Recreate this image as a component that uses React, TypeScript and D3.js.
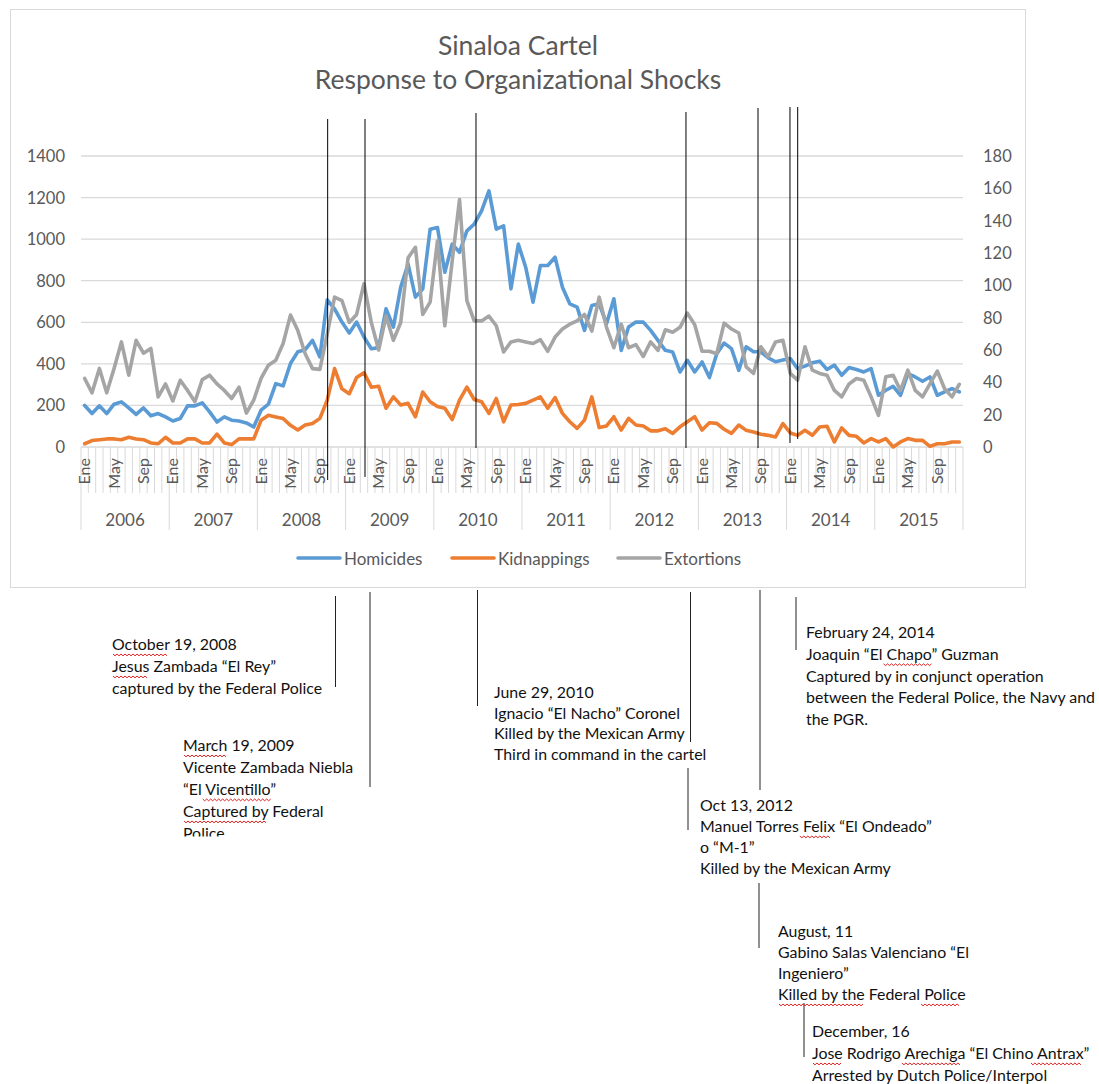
import React, { useEffect, useRef } from 'react';
import * as d3 from 'd3';

// ---------- data ----------
const years = ['2006', '2007', '2008', '2009', '2010', '2011', '2012', '2013', '2014', '2015'];
const monthNames = ['Ene', 'Feb', 'Mar', 'Abr', 'May', 'Jun', 'Jul', 'Ago', 'Sep', 'Oct', 'Nov', 'Dic'];
const shownMonths = ['Ene', 'May', 'Sep'];
const leftTicks = [0, 200, 400, 600, 800, 1000, 1200, 1400];
const rightTicks = [0, 20, 40, 60, 80, 100, 120, 140, 160, 180];

const homicides = [
  200, 161, 198, 161, 206, 217, 188, 157, 188, 150, 161, 145,
  125, 137, 198, 198, 212, 169, 120, 145, 129, 125, 116, 96,
  177, 206, 305, 294, 402, 458, 468, 513, 433, 708, 665, 601,
  548, 601, 529, 473, 478, 665, 577, 769, 880, 721, 761, 1048,
  1056, 841, 976, 937, 1040, 1072, 1136, 1232, 1048, 1064, 761, 976,
  865, 697, 873, 873, 913, 769, 689, 673, 561, 681, 689, 593,
  713, 465, 577, 601, 601, 561, 513, 465, 457, 361, 417, 361,
  409, 334, 449, 500, 473, 369, 482, 458, 458, 429, 410, 418,
  426, 377, 389, 405, 413, 373, 394, 345, 382, 373, 361, 377,
  249, 273, 292, 249, 353, 337, 316, 337, 249, 265, 281, 265,
];
const kidnappings = [
  2, 4, 4.5, 5, 5, 4.5, 6, 5, 4.5, 2.5, 2, 6,
  2.5, 2.5, 5, 5, 2.5, 2.5, 8, 2.5, 1.5, 5, 5, 5,
  16.5, 19.6, 18.6, 17.6, 13.4, 10.5, 13.6, 14.6, 17.7, 29, 48.5, 36,
  33, 43, 46, 37, 37.6, 24, 31, 26, 27, 18.7, 34, 28,
  25, 24, 17, 29, 37, 29.4, 28, 20.8, 30, 15.6, 26, 26.3,
  27, 29, 31, 24, 30.6, 20.8, 15.6, 11.5, 16.6, 31, 12, 13,
  18.7, 10.5, 17.7, 13.6, 13, 10, 10, 11.3, 8.4, 12.5, 15.6, 18.7,
  10.5, 15, 14.6, 11, 8.4, 13.6, 10.3, 9.3, 7.9, 7.2, 6.2, 14.5,
  8.7, 7.2, 10.3, 7.2, 12.4, 12.8, 3.1, 11.8, 7.2, 6.6, 2.5, 5.2,
  3.1, 5.2, 0, 3.1, 5.2, 4.1, 4.1, 0.4, 2, 2, 3.1, 3.1,
];
const extortions = [
  42.4, 33.5, 48.6, 33.5, 48.6, 65, 44.4, 66, 58, 61, 31, 39,
  28.5, 41.3, 35, 28, 41.7, 44.4, 39, 35, 30, 37, 21, 29,
  42.4, 50.6, 53.7, 64, 81.6, 72, 57.7, 48.5, 48, 70, 92.7, 90.6,
  77, 82, 101, 77, 60, 81, 66, 77, 117, 123.5, 82, 89.6,
  127.6, 75, 115, 153, 90.6, 78, 78, 81, 75, 58.8, 65, 66,
  65, 64, 66.4, 59.2, 68, 73, 76, 78, 82, 71.7, 92.7, 74,
  61.4, 76, 61.4, 63.3, 56, 65, 59.8, 72.5, 71, 74, 82.8, 75.6,
  59.2, 59.2, 57.7, 76.6, 73, 70.5, 49.6, 45.5, 62, 55.8, 65, 66,
  45.5, 41.3, 62, 47.5, 45.5, 44.4, 35, 31, 39, 42.4, 41.3, 31,
  19.6, 43.4, 44.4, 35, 47.5, 35, 31, 39, 47, 36, 31, 38.8,
];

const seriesNames = ['Homicides', 'Kidnappings', 'Extortions'];
const seriesColors = ['#5B9BD5', '#ED7D31', '#A5A5A5'];

// event markers: fractional month index (0 = Ene 2006)
const eventPositions = [33.56, 38.64, 53.74, 82.31, 92.11, 96.46, 97.51];

// annotation texts (~...~ marks spell-check underlined words)
const annotationTexts = [
  ['~October~ 19, 2008', '~Jesus~ Zambada “El Rey”', 'captured by the Federal Police'],
  ['~March~ 19, 2009', 'Vicente Zambada Niebla', '“El ~Vicentillo”~', '~Captured by~ Federal', 'Police'],
  ['June 29, 2010', 'Ignacio “El Nacho” Coronel', 'Killed by the Mexican Army', 'Third in command in the cartel'],
  ['Oct 13, 2012', 'Manuel Torres ~Felix~ “El Ondeado”', 'o “M-1”', 'Killed by the Mexican Army'],
  ['February 24, 2014', 'Joaquin “El ~Chapo”~ Guzman', 'Captured by in conjunct operation', 'between the Federal Police, the Navy and', 'the PGR.'],
  ['August, 11', 'Gabino Salas Valenciano “El', 'Ingeniero”', '~Killed by the~ Federal ~Police~'],
  ['December, 16', '~Jose~ Rodrigo ~Arechiga~ “El Chino ~Antrax”~', '~Arrested by~ Dutch ~Police/~Interpol'],
];

// ---------- layout ----------
const W = 1099;
const H = 1084;
const M = { left: 81, right: 963, top: 156, bottom: 447 };
const FONT = "Lato, 'Open Sans', sans-serif";
const TXT = '#595959';
const GRID = '#d9d9d9';

const eventLayout = [
  { top: 119, bottom: 480 }, { top: 119, bottom: 477 }, { top: 113, bottom: 448 },
  { top: 112, bottom: 448 }, { top: 108, bottom: 448 }, { top: 107, bottom: 443 }, { top: 107, bottom: 439 },
];
const annotationLayout = [
  { x: 112, y: 650, dy: 22 },
  { x: 183, y: 751, dy: 22 },
  { x: 494, y: 698, dy: 20.7 },
  { x: 700, y: 811, dy: 21 },
  { x: 806, y: 638, dy: 21.8 },
  { x: 778, y: 937, dy: 21 },
  { x: 812, y: 1037, dy: 22 },
];
const connectors = [
  { x: 335.5, y1: 596, y2: 687 },
  { x: 370, y1: 592, y2: 787 },
  { x: 477.5, y1: 590, y2: 706 },
  { x: 690.5, y1: 592, y2: 742 },
  { x: 688, y1: 768, y2: 830 },
  { x: 760, y1: 590, y2: 790 },
  { x: 796, y1: 597, y2: 650 },
  { x: 759, y1: 883, y2: 948 },
  { x: 804, y1: 1003, y2: 1057 },
];

export default function App() {
  const ref = useRef<SVGSVGElement>(null);

  useEffect(() => {
    const svg = d3.select(ref.current);
    svg.selectAll('*').remove();
    const n = homicides.length;

    svg.append('rect').attr('width', W).attr('height', H).attr('fill', '#fff');

    // chart frame
    svg.append('rect').attr('x', 10.5).attr('y', 9.5).attr('width', 1015).attr('height', 578)
      .attr('fill', '#fff').attr('stroke', GRID).attr('stroke-width', 1);

    const x = d3.scaleLinear().domain([0, n]).range([M.left, M.right]);
    const yL = d3.scaleLinear().domain([0, 1400]).range([M.bottom, M.top]);
    const yR = d3.scaleLinear().domain([0, 180]).range([M.bottom, M.top]);

    // title
    const title = svg.append('g').attr('font-family', FONT).attr('fill', TXT).attr('font-size', 26.5)
      .attr('text-anchor', 'middle');
    title.append('text').attr('x', 518).attr('y', 45).attr('dominant-baseline', 'central').text('Sinaloa Cartel');
    title.append('text').attr('x', 518).attr('y', 79).attr('dominant-baseline', 'central').text('Response to Organizational Shocks');

    // gridlines
    svg.append('g').selectAll('line').data(leftTicks).join('line')
      .attr('x1', M.left).attr('x2', M.right)
      .attr('y1', (d) => yL(d)).attr('y2', (d) => yL(d))
      .attr('stroke', GRID).attr('stroke-width', 1.3);

    // left axis labels
    svg.append('g').selectAll('text').data(leftTicks).join('text')
      .attr('x', 65).attr('y', (d) => yL(d)).attr('dominant-baseline', 'central')
      .attr('text-anchor', 'end').attr('font-family', FONT).attr('font-size', 16.5).attr('fill', TXT)
      .text((d) => String(d));
    // right axis labels
    svg.append('g').selectAll('text').data(rightTicks).join('text')
      .attr('x', 983).attr('y', (d) => yR(d)).attr('dominant-baseline', 'central')
      .attr('text-anchor', 'start').attr('font-family', FONT).attr('font-size', 16.5).attr('fill', TXT)
      .text((d) => String(d));

    // category ticks
    const tickIdx = d3.range(n + 1);
    svg.append('g').selectAll('line').data(tickIdx).join('line')
      .attr('x1', (d) => x(d)).attr('x2', (d) => x(d))
      .attr('y1', M.bottom).attr('y2', (d) => (d % 12 === 0 ? 530 : 493))
      .attr('stroke', GRID).attr('stroke-width', 1);

    // month labels
    const monthLabels: { i: number; t: string }[] = [];
    years.forEach((_, yi) => {
      monthNames.forEach((mn, mi) => {
        if (shownMonths.includes(mn)) monthLabels.push({ i: yi * 12 + mi, t: mn });
      });
    });
    svg.append('g').selectAll('text').data(monthLabels).join('text')
      .attr('transform', (d) => `translate(${x(d.i + 0.5)},458) rotate(-90)`)
      .attr('text-anchor', 'end').attr('dy', '0.35em')
      .attr('font-family', FONT).attr('font-size', 16).attr('fill', TXT)
      .text((d) => d.t);

    // year labels
    svg.append('g').selectAll('text').data(years).join('text')
      .attr('x', (_, i) => x(i * 12 + 6)).attr('y', 519).attr('dominant-baseline', 'central')
      .attr('text-anchor', 'middle').attr('font-family', FONT).attr('font-size', 17).attr('fill', TXT)
      .text((d) => d);

    // series lines
    const lineL = d3.line<number>().x((_, i) => x(i + 0.5)).y((d) => yL(d));
    const lineR = d3.line<number>().x((_, i) => x(i + 0.5)).y((d) => yR(d));
    const series = [
      { data: homicides, gen: lineL },
      { data: kidnappings, gen: lineR },
      { data: extortions, gen: lineR },
    ];
    series.forEach((s, k) => {
      svg.append('path').attr('d', s.gen(s.data) || '')
        .attr('fill', 'none').attr('stroke', seriesColors[k]).attr('stroke-width', 3.6)
        .attr('stroke-linejoin', 'round').attr('stroke-linecap', 'round');
    });

    // legend
    const legendX = [298, 452, 618];
    const lg = svg.append('g');
    seriesNames.forEach((name, k) => {
      lg.append('line').attr('x1', legendX[k]).attr('x2', legendX[k] + 42).attr('y1', 558).attr('y2', 558)
        .attr('stroke', seriesColors[k]).attr('stroke-width', 3.6).attr('stroke-linecap', 'round');
      lg.append('text').attr('x', legendX[k] + 46).attr('y', 558).attr('dominant-baseline', 'central')
        .attr('font-family', FONT).attr('font-size', 17).attr('fill', TXT).text(name);
    });

    // event lines in chart
    svg.append('g').selectAll('line').data(eventPositions).join('line')
      .attr('x1', (d) => x(d)).attr('x2', (d) => x(d))
      .attr('y1', (_, i) => eventLayout[i].top).attr('y2', (_, i) => eventLayout[i].bottom)
      .attr('stroke', '#000').attr('stroke-width', 1);

    // connectors below chart
    svg.append('g').selectAll('line').data(connectors).join('line')
      .attr('x1', (d) => d.x).attr('x2', (d) => d.x).attr('y1', (d) => d.y1).attr('y2', (d) => d.y2)
      .attr('stroke', '#222').attr('stroke-width', 1);

    // clip for the truncated annotation box
    const defs = svg.append('defs');
    defs.append('clipPath').attr('id', 'clipA2').append('rect')
      .attr('x', 0).attr('y', 0).attr('width', W).attr('height', 836.5);

    // annotations
    const ag = svg.append('g').attr('font-family', FONT).attr('font-size', 15.9).attr('fill', '#111');
    annotationTexts.forEach((lines, ai) => {
      const L = annotationLayout[ai];
      const g = ag.append('g');
      if (ai === 1) g.attr('clip-path', 'url(#clipA2)');
      lines.forEach((line, li) => {
        const y = L.y + li * L.dy;
        const t = g.append('text').attr('x', L.x).attr('y', y);
        const parts = line.split('~');
        let cursor = L.x;
        parts.forEach((p, pi) => {
          if (!p) return;
          const ts = t.append('tspan').text(p);
          const w = (ts.node() as SVGTSpanElement).getComputedTextLength();
          if (pi % 2 === 1) {
            // red wavy underline
            const pts: [number, number][] = [];
            const x0 = cursor + 1;
            const x1 = cursor + w - 1;
            let k = 0;
            for (let xx = x0; xx <= x1; xx += 2, k++) pts.push([xx, y + 4 + (k % 2 === 0 ? 0 : 1.8)]);
            g.append('path').attr('d', d3.line()(pts) || '').attr('fill', 'none')
              .attr('stroke', '#e02020').attr('stroke-width', 1);
          }
          cursor += w;
        });
      });
    });
  }, []);

  return (
    <svg ref={ref} width={W} height={H} style={{ position: 'absolute', left: 0, top: 0, display: 'block' }} />
  );
}
